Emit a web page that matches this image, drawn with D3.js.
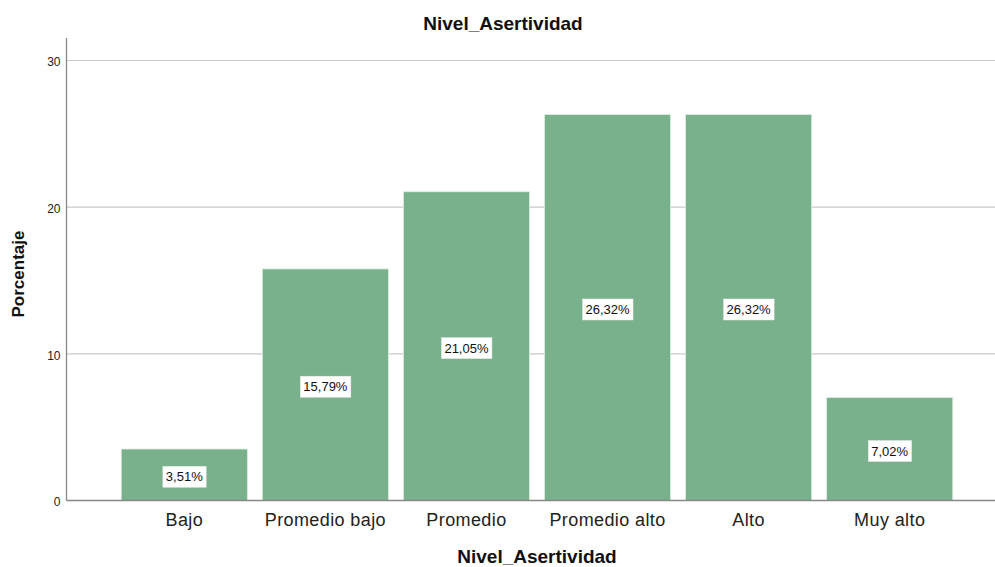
<!DOCTYPE html>
<html><head><meta charset="utf-8">
<script src="https://cdn.jsdelivr.net/npm/d3@7"></script>
<style>body{margin:0;background:#fff}svg{display:block;font-family:"Liberation Sans",Arial,sans-serif}</style>
</head><body><svg id="c" width="995" height="567"></svg>
<script>
const categories = ["Bajo","Promedio bajo","Promedio","Promedio alto","Alto","Muy alto"];
const values = [3.51,15.79,21.05,26.32,26.32,7.02];
const valueLabels = ["3,51%","15,79%","21,05%","26,32%","26,32%","7,02%"];
const yTicks = [0,10,20,30];
const title = "Nivel_Asertividad";
const xTitle = "Nivel_Asertividad";
const yTitle = "Porcentaje";

const svg = d3.select("#c");
const axisX = 66.5, baseY = 500.5, topY = 38;
const x = d3.scaleBand().domain(categories).range([113.75,960.25]).paddingInner(0.106).paddingOuter(0.053);
const y = d3.scaleLinear().domain([0,30]).range([baseY,60.5]);

// gridlines
svg.append("g").selectAll("line").data(yTicks.filter(d=>d>0)).join("line")
  .attr("x1",axisX).attr("x2",995).attr("y1",d=>y(d)).attr("y2",d=>y(d))
  .attr("stroke","#c8c8c8").attr("stroke-width",1.2);

// bars
svg.append("g").selectAll("rect").data(values).join("rect")
  .attr("x",(d,i)=>x(categories[i])).attr("width",x.bandwidth())
  .attr("y",d=>y(d)).attr("height",d=>baseY-y(d))
  .attr("fill","#79b18c").attr("stroke","#dcefe2").attr("stroke-width",0.8);

// axes
svg.append("line").attr("x1",axisX).attr("x2",axisX).attr("y1",topY).attr("y2",baseY)
  .attr("stroke","#888").attr("stroke-width",1.3);
svg.append("line").attr("x1",axisX).attr("x2",995).attr("y1",baseY).attr("y2",baseY)
  .attr("stroke","#888").attr("stroke-width",1.3);

// y tick labels
const yAxis = d3.axisLeft(y).tickValues(yTicks).tickSize(0).tickPadding(6);
const ga = svg.append("g").attr("transform",`translate(${axisX},1.5)`).call(yAxis);
ga.select(".domain").remove();
ga.selectAll("text").attr("font-size",12).attr("fill","#222").attr("font-family","Liberation Sans, Arial, sans-serif");

// x tick labels
const xAxis = d3.axisBottom(x).tickSize(0).tickPadding(0);
const gx = svg.append("g").attr("transform",`translate(0,${baseY})`).call(xAxis);
gx.select(".domain").remove();
gx.selectAll("text").attr("font-size",18).attr("fill","#222").attr("dy",null).attr("y",25.5)
  .attr("letter-spacing","0.4px").attr("font-family","Liberation Sans, Arial, sans-serif");

// value labels
const lg = svg.append("g").selectAll("g").data(values).join("g")
  .attr("transform",(d,i)=>`translate(${x(categories[i])+x.bandwidth()/2},${(y(d)+baseY)/2+2})`);
lg.append("text").text((d,i)=>valueLabels[i]).attr("text-anchor","middle").attr("dy","0.35em")
  .attr("font-size",13).attr("fill","#111");
lg.each(function(){
  const g=d3.select(this); const b=g.select("text").node().getBBox();
  g.insert("rect","text").attr("x",b.x-3).attr("y",-10.5).attr("width",b.width+6).attr("height",21)
    .attr("fill","#fff").attr("stroke","#e8e8e8").attr("stroke-width",0.5);
});

// titles
svg.append("text").text(title).attr("x",503).attr("y",30).attr("text-anchor","middle")
  .attr("font-size",19).attr("font-weight","bold").attr("fill","#111");
svg.append("text").text(xTitle).attr("x",537).attr("y",563).attr("text-anchor","middle")
  .attr("font-size",19).attr("font-weight","bold").attr("fill","#111");
svg.append("text").text(yTitle).attr("transform","translate(24,274) rotate(-90)").attr("text-anchor","middle")
  .attr("font-size",17).attr("font-weight","bold").attr("fill","#111");
</script></body></html>
